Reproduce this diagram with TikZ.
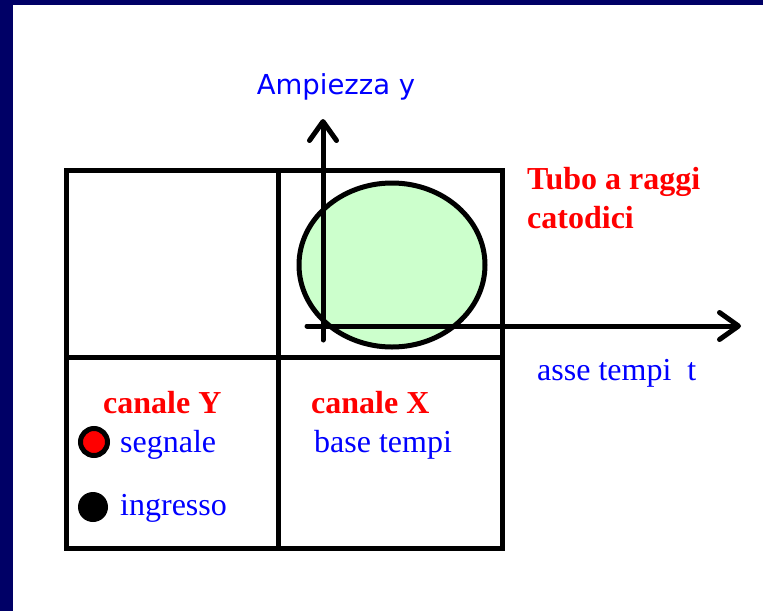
\documentclass[tikz,border=0pt]{standalone}
\usepackage{fontspec}
\setmainfont{Liberation Serif}
\newfontfamily\axisfont{DejaVu Sans}
\usetikzlibrary{arrows.meta}
\definecolor{navy}{HTML}{000066}
\definecolor{tubefill}{HTML}{CCFFCC}
\definecolor{txtblue}{HTML}{0000FF}
\definecolor{txtred}{HTML}{FF0000}
\tikzset{
  gridline/.style={line width=5pt, line cap=rect},
  axisline/.style={line width=5pt, line cap=round,
    -{Straight Barb[length=19pt, width=27pt, round]}},
  redlabel/.style={anchor=base west, inner sep=0pt, text=txtred,
    font=\fontsize{32}{38}\selectfont\bfseries},
  bluelabel/.style={anchor=base west, inner sep=0pt, text=txtblue,
    font=\fontsize{32}{38}\selectfont},
}
\begin{document}
\begin{tikzpicture}[x=1pt, y=-1pt]
\useasboundingbox (0,0) rectangle (763,611);
% frame band
\fill[navy] (0,0) rectangle (763,5);
\fill[navy] (0,0) rectangle (13,611);
% grid
\coordinate (tl) at (66,170);
\coordinate (tr) at (502,170);
\coordinate (bl) at (66,548);
\coordinate (br) at (502,548);
\coordinate (mt) at (278,170);
\coordinate (mb) at (278,548);
\coordinate (ml) at (66,357);
\coordinate (mr) at (502,357);
\draw[gridline] (tl) rectangle (br);
\draw[gridline] (mt) -- (mb);
\draw[gridline] (ml) -- (mr);
% tube screen
\fill[tubefill] (392,265) ellipse [x radius=93, y radius=82];
\draw[line width=5pt] (392,265) ellipse [x radius=93, y radius=82];
% axes
\coordinate (yfoot) at (323,340);
\coordinate (ytip) at (323,119);
\coordinate (xfoot) at (307,326);
\coordinate (xtip) at (741,326);
\draw[axisline] (yfoot) -- (ytip);
\draw[axisline] (xfoot) -- (xtip);
% labels
\node[anchor=base, inner sep=0pt, text=txtblue, font=\axisfont\fontsize{27.5}{32}\selectfont]
  (ampl) at (336,94) {Ampiezza y};
\node[redlabel] (tubo1) at (527,189) {Tubo a raggi};
\node[redlabel] (tubo2) at (527,228) {catodici};
\node[bluelabel] (asse) at (537,380) {asse tempi~ t};
\node[redlabel] (cy) at (103,413) {canale Y};
\node[bluelabel] (segn) at (120,452) {segnale};
\node[bluelabel] (ingr) at (120,515) {ingresso};
\node[redlabel] (cx) at (311,413) {canale X};
\node[bluelabel] (bt) at (314,452) {base tempi};
% dots
\node[circle, draw=black, line width=5pt, fill=txtred, minimum size=27pt, inner sep=0pt] (dotred) at (94,442) {};
\node[circle, fill=black, minimum size=30pt, inner sep=0pt] (dotblack) at (93,507) {};
\end{tikzpicture}
\end{document}
